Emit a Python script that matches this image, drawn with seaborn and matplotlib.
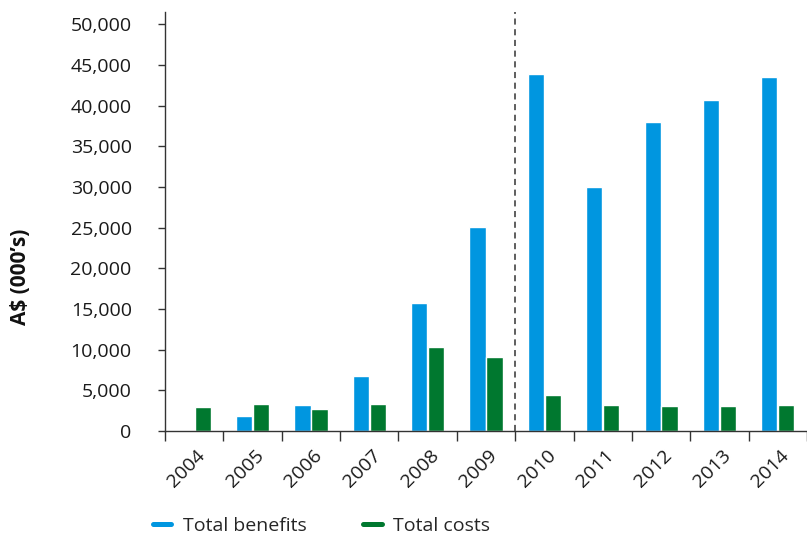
import matplotlib
matplotlib.use("Agg")
import matplotlib.pyplot as plt
import matplotlib.transforms as mtransforms
import seaborn as sns
import pandas as pd
import numpy as np
from matplotlib.lines import Line2D
from matplotlib.ticker import FuncFormatter

years = ["2004", "2005", "2006", "2007", "2008", "2009", "2010", "2011", "2012", "2013", "2014"]
total_benefits = [0, 1850, 3200, 6750, 15700, 25050, 43850, 29950, 37950, 40650, 43500]
total_costs = [2950, 3300, 2700, 3300, 10300, 9100, 4400, 3200, 3050, 3050, 3200]
series_names = ["Total benefits", "Total costs"]
colors = ["#0096E0", "#00782F"]

sns.set_style("white")
plt.rcParams['font.family'] = ['Open Sans', 'DejaVu Sans']

df = pd.DataFrame({
    "year": years * 2,
    "value": total_benefits + total_costs,
    "series": [series_names[0]] * len(years) + [series_names[1]] * len(years),
})

fig = plt.figure(figsize=(8.07, 5.37), dpi=100)
ax = fig.add_axes([0.2045, 0.1974, 0.7955, 0.7803])

sns.barplot(data=df, x="year", y="value", hue="series", palette=colors,
            width=0.58, gap=0.04, ax=ax, legend=False, saturation=1, errorbar=None)

ax.set_xlim(-0.5, len(years) - 0.5)
ax.set_ylim(0, 51500)
ax.set_yticks(np.arange(0, 50001, 5000))
ax.yaxis.set_major_formatter(FuncFormatter(lambda v, p: f"{int(v):,}"))
ax.tick_params(axis="y", which="major", left=True, length=5, width=1, color="#333333",
               labelsize=14, labelcolor="#1a1a1a", pad=19)

ax.set_xticks(range(len(years)))
ax.set_xticklabels(years, rotation=45, ha="right", va="top", rotation_mode="anchor",
                   fontsize=14, color="#1a1a1a")
ax.tick_params(axis="x", which="major", length=0, pad=11)
shift = mtransforms.ScaledTranslation(1.5 / 72, 0, fig.dpi_scale_trans)
for lab in ax.get_xticklabels():
    lab.set_transform(lab.get_transform() + shift)
ax.set_xticks(np.arange(-0.5, len(years) + 0.5, 1), minor=True)
ax.tick_params(axis="x", which="minor", bottom=True, length=7, width=1, color="#333333")

for s in ["top", "right"]:
    ax.spines[s].set_visible(False)
for s in ["left", "bottom"]:
    ax.spines[s].set_color("#333333")
    ax.spines[s].set_linewidth(1)

ax.axvline(5.5, color="#333333", linestyle=(0, (4, 3)), linewidth=1.1)

ax.set_xlabel("")
ax.set_ylabel("")
fig.text(21 / 807, 1 - 277 / 537, "A$ (000’s)", rotation=90, ha="center", va="center",
         fontsize=15, fontweight="bold", color="#111111")

handles = [Line2D([0], [0], color=c, lw=3.6, solid_capstyle="round") for c in colors]
fig.legend(handles, series_names, loc="center left", bbox_to_anchor=(153 / 807, 1 - 526 / 537),
           ncol=2, frameon=False, fontsize=14, handlelength=0.95, columnspacing=2.9,
           handletextpad=0.6, borderpad=0, borderaxespad=0)

fig.savefig("out.png", dpi=100)
